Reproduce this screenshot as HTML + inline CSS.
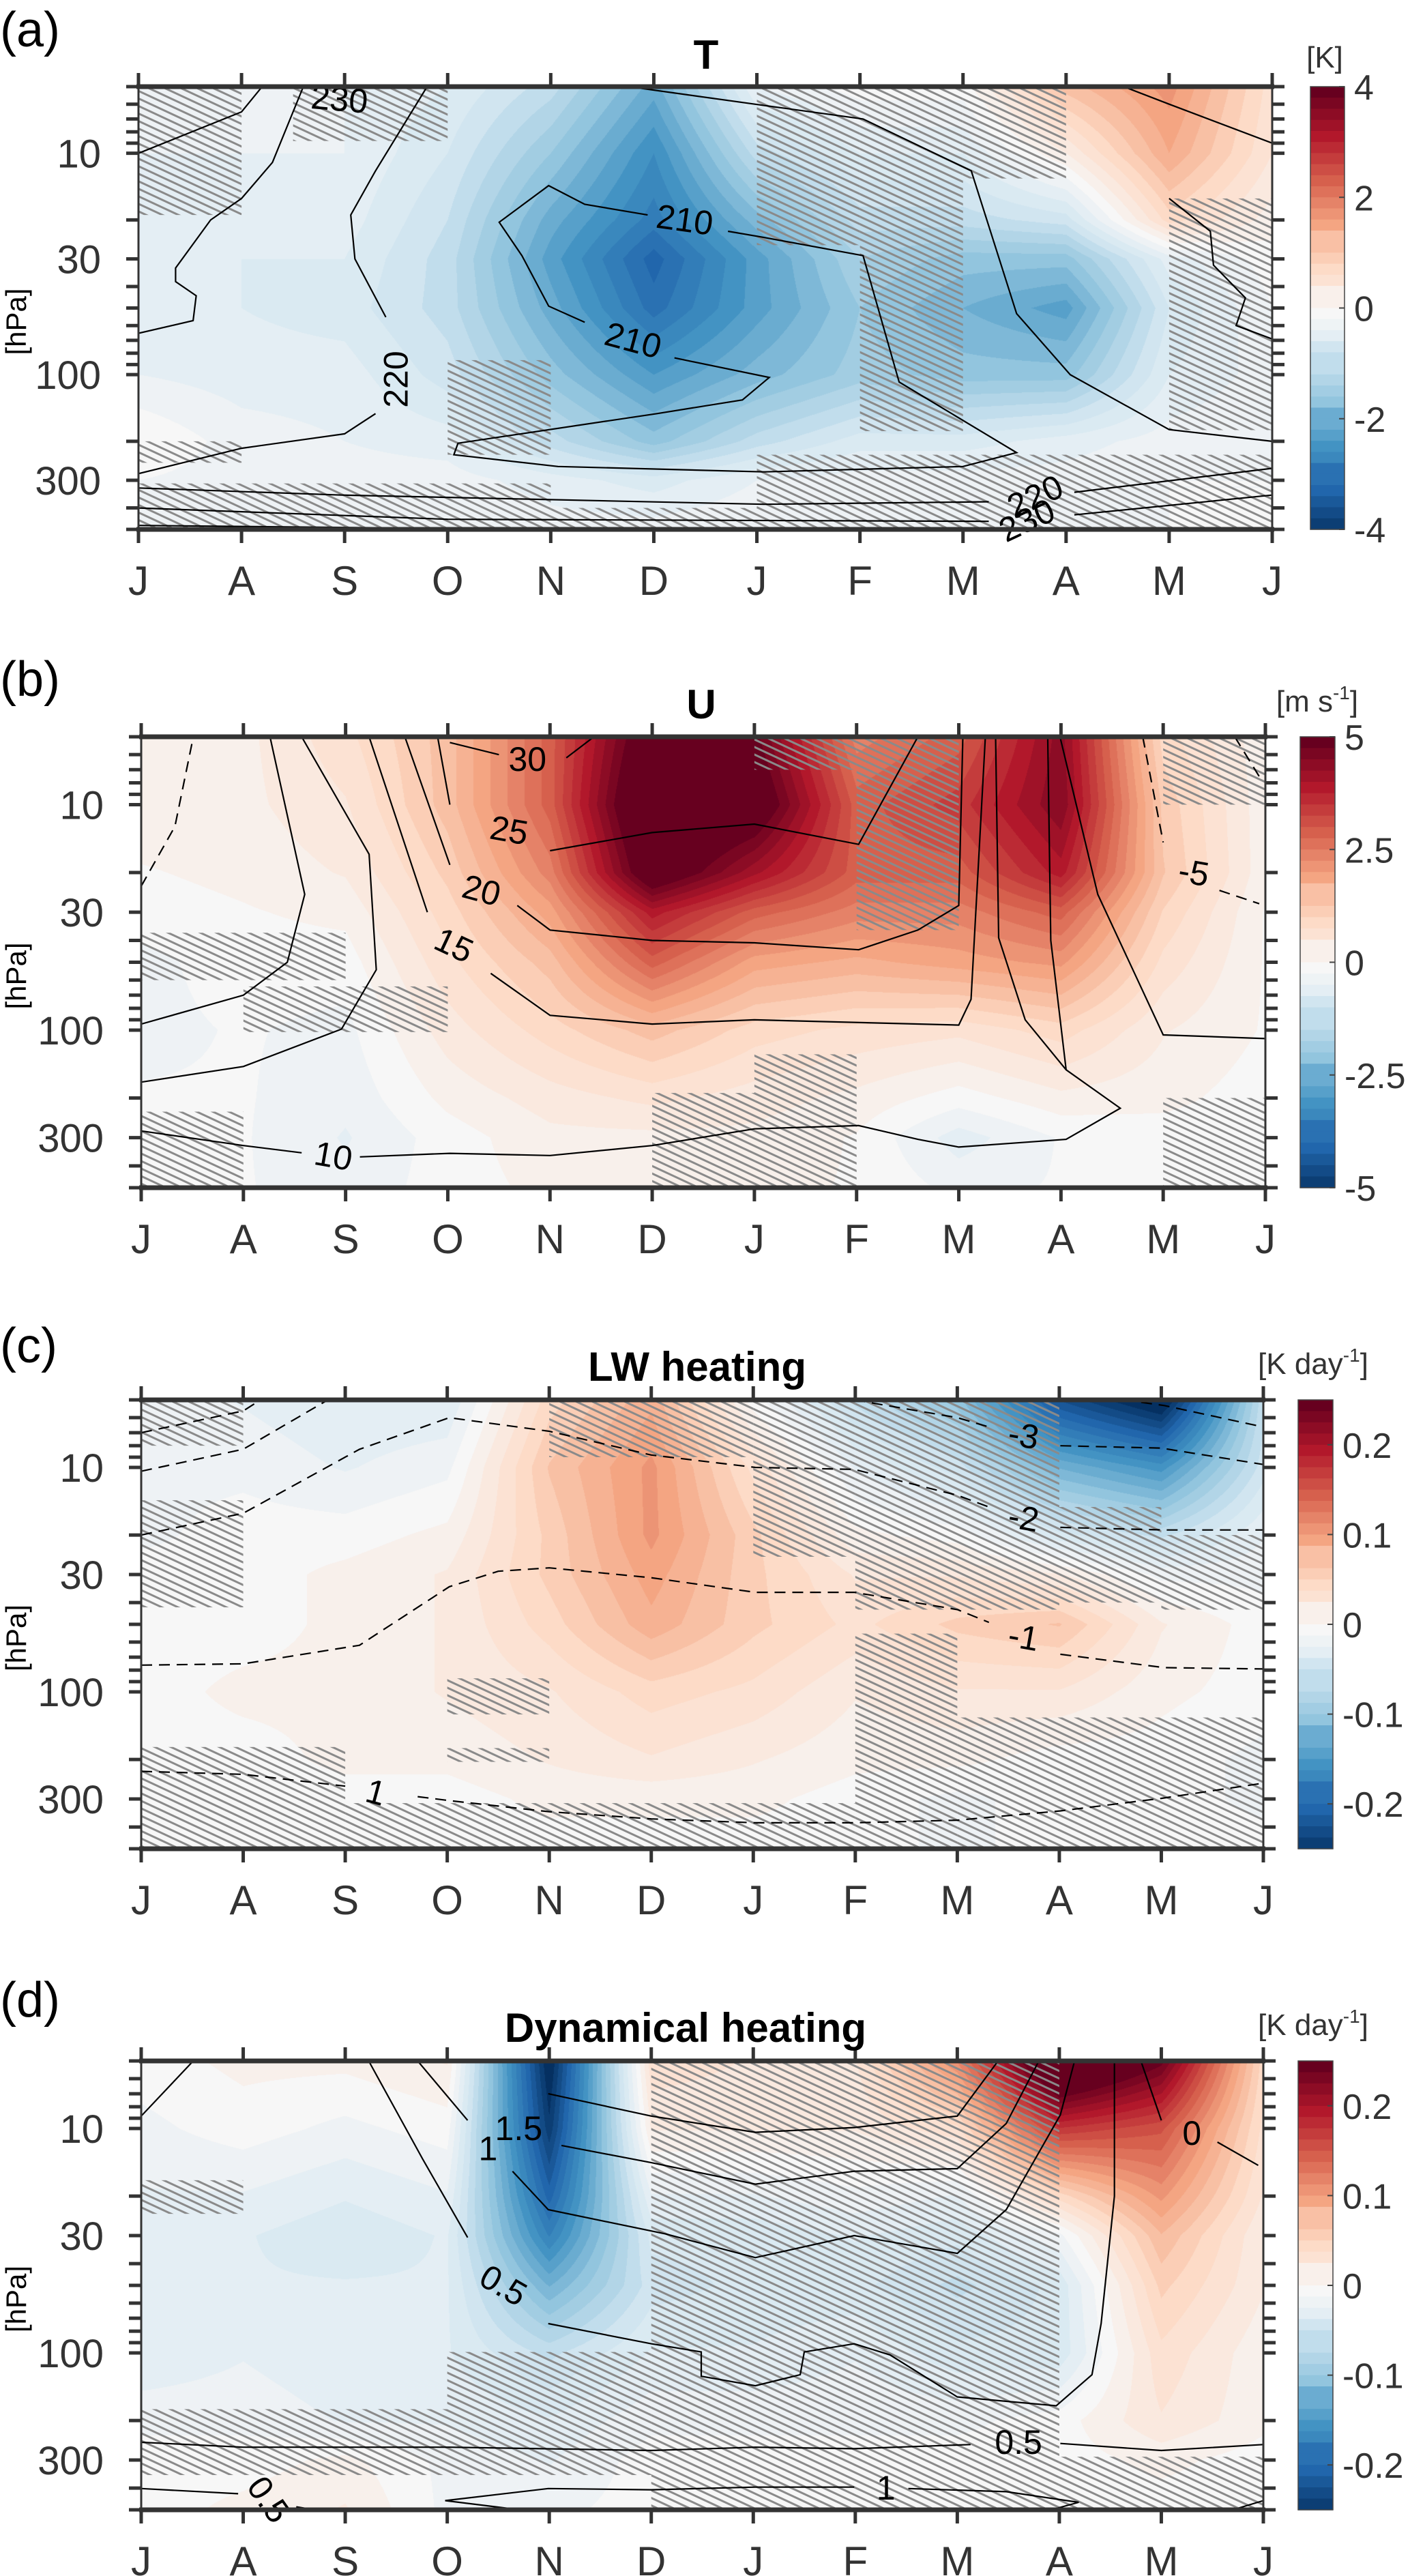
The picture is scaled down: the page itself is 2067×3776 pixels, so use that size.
<!DOCTYPE html>
<html><head><meta charset="utf-8">
<style>
html,body{margin:0;padding:0;background:#fff;}
#wrap{position:relative;width:2067px;height:3776px;overflow:hidden;font-family:"Liberation Sans",Arial,sans-serif;}
canvas{position:absolute;}
svg{position:absolute;left:0;top:0;}
</style></head>
<body>
<div id="wrap">
<canvas id="cv0"></canvas>
<canvas id="cv1"></canvas>
<canvas id="cv2"></canvas>
<canvas id="cv3"></canvas>
<svg id="svg" width="2067" height="3776" xmlns="http://www.w3.org/2000/svg">
<defs>
<pattern id="hatch" patternUnits="userSpaceOnUse" width="10" height="10" patternTransform="rotate(25)">
<line x1="0" y1="5" x2="10" y2="5" stroke="#8a8a8a" stroke-width="3"/>
</pattern>
</defs>
</svg>
</div>
<script>
// ---------- shared data ----------
const months = ['J','A','S','O','N','D','J','F','M','A','M','J'];
const levels = [5,10,20,30,50,100,200,300,500];
const yTickLabels = [10,30,100,300];
const minorTicks = [5,6,7,8,9,10,20,30,40,50,60,70,80,90,100,200,300,400,500];

// ---------- panel (a) T ----------
const fieldT = [
 [-0.2,-0.2,-0.3,-0.5,-1.0,-2.0,-0.3, 0.0, 0.0, 1.2, 1.8, 0.6],
 [-0.3,-0.3,-0.3,-0.7,-1.5,-2.5,-1.0,-0.5,-0.5, 0.3, 1.5, 0.5],
 [-0.4,-0.4,-0.4,-0.9,-2.0,-2.8,-1.8,-1.0,-1.0,-0.8, 0.8, 0.2],
 [-0.4,-0.5,-0.5,-1.0,-2.2,-3.2,-2.2,-1.3,-1.6,-1.6,-0.4, 0.0],
 [-0.4,-0.5,-0.6,-1.0,-2.0,-3.0,-2.2,-1.5,-1.9,-2.2,-0.7,-0.1],
 [-0.3,-0.4,-0.4,-0.8,-1.6,-2.3,-1.8,-1.4,-1.6,-1.6,-0.5,-0.2],
 [ 0.1,-0.2,-0.3,-0.4,-1.0,-1.6,-1.0,-0.6,-0.6,-0.4,-0.2,-0.1],
 [-0.1,-0.2,-0.2,-0.2,-0.4,-0.6,-0.3,-0.2,-0.2,-0.2,-0.1,-0.1],
 [-0.1,-0.1,-0.1,-0.1,-0.2,-0.2,-0.1,-0.1,-0.1,-0.1,-0.1,-0.1]];
const hatchT = [[0,1,5,19],[1.5,3,5,8.8],[3,4,86,230],[6,7,5,26],[7,8,5,180],[8,9,5,13],[10,11,16,178],[6,11,230,500],[0,4,310,500],[0,1,200,250],[4,6,400,500]];
const contoursT = [
 {dash:false,segs:[[[0,10],[1,6.5],[1.2,5]]]},
 {dash:false,segs:[[[0,65],[0.53,57],[0.56,44],[0.36,38],[0.36,33],[0.7,20],[1.0,16],[1.3,11],[1.6,5]]]},
 {dash:false,segs:[[[2.8,5],[2.3,12],[2.06,19],[2.1,30],[2.4,55]],[[2.3,150],[2.0,185],[1.0,215],[0,280]]]},
 {dash:false,segs:[[[4.94,19],[4.33,17],[3.98,14],[3.5,20.5],[3.72,29],[3.98,49],[4.33,58]],[[5.2,84],[6.12,103],[5.86,130],[5.03,150],[3.1,204],[3.06,230],[4.07,260],[6.07,275],[8.0,260],[8.52,225],[7.38,108],[7.03,29],[6.07,24],[5.72,22.5]]]},
 {dash:false,segs:[[[4.76,5],[5.98,6],[7.03,7],[8.08,12],[8.52,53],[9.04,100],[10.0,177],[11,200]]]},
 {dash:false,segs:[[[9.56,5],[10,6],[11,9]]]},
 {dash:false,segs:[[[10,16],[10.4,22.5],[10.43,32],[10.74,45],[10.65,60],[11,69]]]},
 {dash:false,segs:[[[0,325],[1.97,350],[6.07,385],[8.25,375]],[[9.08,340],[11,265]]]},
 {dash:false,segs:[[[0,400],[3.0,450],[8.25,460]],[[9.08,430],[11,350]]]},
 {dash:false,segs:[[[0,480],[3.9,500]]]}];
const labelsT = [['230',1.95,5.7,5],['220',2.5,105,-90],['210',4.8,70,15],['210',5.3,20,8],['220',8.7,355,-25],['230',8.62,455,-25]];

// ---------- panel (b) U ----------
const fieldU = [
 [0.3,0.3,0.8,1.5,3.0,5.5,5.0,2.5,3.0,4.5,1.0,0.2],
 [0.3,0.3,0.6,1.5,3.0,6.0,5.5,3.0,3.5,4.6,1.3,0.2],
 [0.1,0.2,0.4,1.2,2.5,5.5,4.2,3.0,3.0,4.0,1.4,0.2],
 [0.0,0.1,0.2,1.0,2.0,4.0,3.0,2.5,2.5,3.0,1.1,0.1],
 [-0.2,0.0,0.0,0.8,1.5,3.0,2.0,1.8,2.0,2.2,0.8,0.1],
 [-0.2,-0.1,-0.2,0.5,1.0,1.5,1.0,0.8,0.7,1.0,0.4,0.1],
 [-0.1,-0.1,-0.3,0.2,0.5,0.7,0.5,0.3,0.0,0.3,0.2,0.0],
 [-0.1,-0.1,-0.4,0.0,0.3,0.3,0.3,0.1,-0.5,-0.1,0.0,0.0],
 [-0.1,-0.1,-0.3,0.0,0.2,0.2,0.2,0.1,-0.2,-0.1,0.0,0.0]];
const hatchU = [[0,2,37,60],[1,3,64,102],[6,7,5,7],[7,8,5,36],[5,7,190,500],[6,7,128,190],[10,11,5,10],[0,1,230,500],[10,11,200,500]];
const contoursU = [
 {dash:true,segs:[[[0,23],[0.33,12.5],[0.51,5]]]},
 {dash:false,segs:[[[0,94],[1,70],[1.43,50],[1.6,25],[1.26,5]]]},
 {dash:false,segs:[[[0,170],[1,145],[1.96,99],[2.3,54],[2.23,16.6],[1.57,5]]]},
 {dash:false,segs:[[[2.23,5],[2.8,30]],[[3.42,56],[4.0,86],[5.0,94],[6.0,90],[8.0,95],[8.12,73],[8.26,5]]]},
 {dash:false,segs:[[[2.58,5],[3.02,18.5]],[[3.68,28],[4.0,36],[5.0,40],[6.0,41],[7.02,44],[7.6,36],[8.0,28],[8.04,5]]]},
 {dash:false,segs:[[[2.9,5],[3.02,10]],[[4.0,16],[5.0,13.3],[6.0,12.2],[7.02,15],[7.6,5]]]},
 {dash:false,segs:[[[3.02,5.3],[3.5,6]],[[4.16,6.2],[4.43,5]]]},
 {dash:false,segs:[[[8.36,5],[8.39,39],[8.65,90],[9.05,150],[9.58,222],[9.05,305],[8.0,330],[7.6,305],[7.02,265],[6.0,274],[5.0,325],[4.0,360],[3.02,352],[2.14,365]],[[1.57,350],[1.0,325],[0,280]]]},
 {dash:false,segs:[[[8.87,5],[8.9,40],[9.05,150]]]},
 {dash:false,segs:[[[8.99,5],[9.36,25],[10.0,105],[11,109]]]},
 {dash:true,segs:[[[9.8,5],[10,14.7]],[[10.55,24],[10.94,27.5]]]},
 {dash:true,segs:[[[10.7,5],[10.94,7.5]]]}];
const labelsU = [['30',3.78,6.3,0],['25',3.6,13,10],['20',3.33,24,15],['15',3.06,42,25],['10',1.88,362,10],['-5',10.3,20,10]];

// ---------- panel (c) LW ----------
const fieldLW = [
 [-0.01,-0.02,-0.03,-0.03,0.05,0.09,0.0,-0.06,-0.1,-0.22,-0.27,-0.06],
 [-0.01,-0.01,-0.02,-0.01,0.07,0.11,0.04,-0.02,-0.05,-0.12,-0.15,-0.05],
 [-0.01,0.0,0.0,0.01,0.06,0.11,0.06,0.01,0.0,-0.04,-0.06,-0.02],
 [0.0,0.0,0.01,0.02,0.06,0.10,0.06,0.03,0.03,0.02,-0.01,-0.01],
 [0.0,0.0,0.01,0.02,0.05,0.09,0.06,0.04,0.06,0.07,0.02,0.0],
 [0.0,0.01,0.01,0.02,0.03,0.05,0.04,0.02,0.03,0.03,0.01,0.0],
 [0.0,0.0,0.01,0.01,0.02,0.03,0.02,0.01,0.01,0.0,0.0,-0.01],
 [0.0,0.0,0.0,0.0,0.01,0.01,0.01,0.0,-0.01,0.0,0.0,-0.01],
 [0.0,0.0,0.0,0.0,0.0,0.0,0.0,0.0,-0.01,0.0,0.0,0.0]];
const hatchLW = [[0,1,5,8],[0,1,14,42],[4,6,5,9],[6,7,5,25],[7,9,5,43],[9,10,15,40],[10,11,20,43],[7,8,55,500],[8,11,130,500],[3,4,87,126],[3,4,178,205],[0,2,176,500],[2,7,313,500]];
const contoursLW = [
 {dash:true,segs:[[[0,7],[1,5.6],[1.17,5]]]},
 {dash:true,segs:[[[0,10.4],[1,8.3],[1.83,5]]]},
 {dash:true,segs:[[[0,20],[1,16],[2.14,8.3],[3.02,6],[4,6.9],[5,8.8],[6.02,10],[6.99,10.2],[8.0,13.3],[8.31,15]],[[9.01,18.5],[10.03,19],[11,19]]]},
 {dash:true,segs:[[[6.99,5],[8,6],[8.31,6.6]],[[9.01,8],[10,8.2],[11,9.7]]]},
 {dash:true,segs:[[[9.63,5],[10.03,5.3],[11,6.6]]]},
 {dash:true,segs:[[[0,76],[1,75],[2.14,62],[3.02,34],[3.5,29],[4,28],[5,31],[6.02,36],[6.99,36],[8,43],[8.31,49]],[[9.01,68],[10.03,78],[11,79]]]},
 {dash:true,segs:[[[0,226],[1,233],[2.0,263]],[[2.71,293],[3.02,305],[4,342],[5,368],[6.02,383],[6.99,383],[8,373],[9.01,339],[10,298],[11,255]]]}];
const labelsLW = [['-3',8.65,7.2,10],['-2',8.65,16.8,10],['-1',8.65,57,10],['1',2.3,280,15]];

// ---------- panel (d) Dynamical ----------
const fieldDyn = [
 [0.0,0.01,0.01,0.02,-0.26,0.04,0.03,0.03,0.12,0.32,0.25,0.05],
 [-0.01,0.0,-0.01,0.0,-0.24,0.02,0.02,0.02,0.04,0.18,0.16,0.04],
 [-0.02,-0.02,-0.03,-0.02,-0.2,-0.02,-0.02,-0.01,-0.02,0.05,0.11,0.03],
 [-0.02,-0.03,-0.04,-0.03,-0.17,-0.04,-0.04,-0.03,-0.04,-0.01,0.08,0.02],
 [-0.02,-0.03,-0.03,-0.03,-0.12,-0.05,-0.04,-0.04,-0.06,-0.04,0.06,0.02],
 [-0.03,-0.02,-0.03,-0.03,-0.06,-0.03,-0.03,-0.02,-0.04,-0.04,0.04,0.01],
 [-0.01,-0.01,-0.02,-0.02,-0.03,-0.01,-0.01,-0.01,-0.01,0.0,0.03,0.01],
 [0.0,0.0,0.01,-0.01,-0.02,0.0,0.0,0.0,0.0,0.0,0.01,0.0],
 [0.0,0.01,0.02,-0.01,-0.01,0.0,0.0,0.0,0.0,0.0,0.0,0.0]];
const hatchDyn = [[5,9,5,500],[0,5,178,350],[3,5,99,178],[0,1,17,24],[9,11,290,500]];
const contoursDyn = [
 {dash:false,segs:[[[0,8.8],[0.51,5]]]},
 {dash:false,segs:[[[2.23,5],[2.76,13.7],[3.2,30.6]],[[3.99,74],[5,91],[5.49,99],[5.49,127],[6.02,140],[6.46,125],[6.5,99],[6.99,91],[7.34,102],[8,157],[8.97,172],[9.32,125],[9.41,74],[9.54,20],[9.54,5]]]},
 {dash:false,segs:[[[2.71,5],[3.2,9.2]],[[3.99,7],[5,8.8],[6.02,10.4],[6.99,9.9],[8,8.8],[8.4,5]]]},
 {dash:false,segs:[[[4.12,11.9],[5,14.2],[6.02,17.7],[6.99,15.5],[8,15.1],[8.48,9.5],[8.8,5]]]},
 {dash:false,segs:[[[3.64,15.5],[3.99,23],[5.14,29.5],[6.02,37.6],[6.99,30],[8,36],[8.48,23],[9.01,8.7],[9.15,5]]]},
 {dash:false,segs:[[[9.8,5],[10,9.2]],[[10.55,11.5],[10.95,14.6]]]},
 {dash:false,segs:[[[0,250],[1,263],[3.02,263],[5,272],[6.02,263],[6.99,267],[8.13,256]],[[9.01,253],[10,272],[11,256]]]},
 {dash:false,segs:[[[3.64,495],[2.98,455],[3.99,402],[5,407],[6.02,396],[6.99,396]],[[7.52,402],[8.48,415],[9.19,463],[8.92,500]]]},
 {dash:false,segs:[[[0,402],[0.95,424]],[[1.52,485],[1.7,500]]]},
 {dash:false,segs:[[[10.7,500],[11,455]]]}];
const labelsDyn = [['1.5',3.7,10,0],['1',3.4,12.3,0],['0.5',3.55,50,30],['0',10.3,10.5,0],['0.5',8.6,250,0],['1',7.3,400,0],['0.5',1.25,450,55]];

// ---------- colormap ----------
const rdbu = [[5,48,97],[33,102,172],[67,147,195],[146,197,222],[209,229,240],[247,247,247],[253,219,199],[244,165,130],[214,96,77],[178,24,43],[103,0,31]];
function cmap(t){
  t = Math.max(-1,Math.min(1,Math.round(t*20)/20));
  const u=(t+1)/2*10; const i=Math.min(9,Math.floor(u)); const f=u-i;
  const a=rdbu[i], b=rdbu[i+1];
  return [a[0]+(b[0]-a[0])*f, a[1]+(b[1]-a[1])*f, a[2]+(b[2]-a[2])*f];
}

const panels = [
 {id:'a',L:203,R:1865,T:127,B:776,cbL:1921,cbR:1971,field:fieldT,vmax:4,hatch:hatchT,cont:contoursT,labels:labelsT,
  title:'T',titleX:1035,titleY:101,lab:'(a)',labY:68,unit:['[K]'],unitX:1942,unitY:99,cbTicks:[4,2,0,-2,-4]},
 {id:'b',L:207,R:1855,T:1080,B:1741,cbL:1906,cbR:1957,field:fieldU,vmax:5,hatch:hatchU,cont:contoursU,labels:labelsU,
  title:'U',titleX:1028,titleY:1053,lab:'(b)',labY:1020,unit:['[m s','-1',']'],unitX:1931,unitY:1043,cbTicks:[5,2.5,0,-2.5,-5]},
 {id:'c',L:207,R:1852,T:2052,B:2710,cbL:1903,cbR:1954,field:fieldLW,vmax:0.25,hatch:hatchLW,cont:contoursLW,labels:labelsLW,
  title:'LW heating',titleX:1022,titleY:2024,lab:'(c)',labY:1997,unit:['[K day','-1',']'],unitX:1925,unitY:2014,cbTicks:[0.2,0.1,0,-0.1,-0.2]},
 {id:'d',L:207,R:1852,T:3021,B:3679,cbL:1903,cbR:1954,field:fieldDyn,vmax:0.25,hatch:hatchDyn,cont:contoursDyn,labels:labelsDyn,
  title:'Dynamical heating',titleX:1005,titleY:2993,lab:'(d)',labY:2956,unit:['[K day','-1',']'],unitX:1925,unitY:2983,cbTicks:[0.2,0.1,0,-0.1,-0.2]}
];

const NS='http://www.w3.org/2000/svg';
const svg=document.getElementById('svg');
function mk(tag,attrs,parent){const e=document.createElementNS(NS,tag);for(const k in attrs)e.setAttribute(k,attrs[k]);(parent||svg).appendChild(e);return e;}
const LP0=Math.log10(5), LPR=2;
const logLv=levels.map(p=>Math.log10(p));

panels.forEach((P,pi)=>{
  const W=P.R-P.L, H=P.B-P.T;
  const xs=m=>P.L+m/11*W;
  const ys=p=>P.T+(Math.log10(p)-LP0)/LPR*H;

  const cv=document.getElementById('cv'+pi);
  cv.width=W; cv.height=H; cv.style.left=P.L+'px'; cv.style.top=P.T+'px';
  const ctx=cv.getContext('2d'); const img=ctx.createImageData(W,H);
  for(let py=0;py<H;py++){
    const lp=LP0+(py+0.5)/H*LPR;
    let i=0; while(i<levels.length-2 && lp>logLv[i+1]) i++;
    let ty=(lp-logLv[i])/(logLv[i+1]-logLv[i]); ty=Math.max(0,Math.min(1,ty));
    for(let px=0;px<W;px++){
      const m=(px+0.5)/W*11; let j=Math.min(10,Math.floor(m)); const tx=m-j;
      const f=P.field;
      const v=(f[i][j]*(1-tx)+f[i][j+1]*tx)*(1-ty)+(f[i+1][j]*(1-tx)+f[i+1][j+1]*tx)*ty;
      const c=cmap(v/P.vmax); const k=(py*W+px)*4;
      img.data[k]=c[0];img.data[k+1]=c[1];img.data[k+2]=c[2];img.data[k+3]=255;
    }
  }
  ctx.putImageData(img,0,0);

  const g=mk('g',{});
  
  
  const cp=mk('clipPath',{id:'clip'+pi},g);
  mk('rect',{x:P.L,y:P.T,width:W,height:H},cp);

  const hg=mk('g',{'clip-path':'url(#clip'+pi+')'},g);
  
  
  P.hatch.forEach(h=>{
    const r=mk('rect',{x:xs(h[0]),y:ys(h[2]),width:xs(h[1])-xs(h[0]),height:ys(h[3])-ys(h[2]),fill:'url(#hatch)'},hg);
    
    
  });

  const cg=mk('g',{'clip-path':'url(#clip'+pi+')'},g);
  
  
  P.cont.forEach(c=>{
    c.segs.forEach(s=>{
      const d=s.map((q,k)=>(k?'L':'M')+xs(q[0]).toFixed(1)+','+ys(q[1]).toFixed(1)).join('');
      const path=mk('path',{d:d,fill:'none',stroke:'#000','stroke-width':2.2,'stroke-dasharray':c.dash?'16,10':'none'},cg);
      
      
    });
  });
  P.labels.forEach(l=>{
    const x=xs(l[1]), y=ys(l[2]);
    const t=mk('text',{x:x,y:y,'font-size':50,'text-anchor':'middle','dominant-baseline':'central',transform:'rotate('+l[3]+' '+x+' '+y+')',fill:'#000'},g);
    t.textContent=l[0];
    
    
  });

  const ax='#333';
  const box=mk('rect',{x:P.L,y:P.T,width:W,height:H,fill:'none',stroke:ax,'stroke-width':3},g);
  
  
  mk('line',{x1:P.L-3,x2:P.R+3,y1:P.T,y2:P.T,stroke:ax,'stroke-width':7},g);
  mk('line',{x1:P.L-3,x2:P.R+3,y1:P.B,y2:P.B,stroke:ax,'stroke-width':7},g);

  months.forEach((mo,k)=>{
    const x=xs(k);
    mk('line',{x1:x,x2:x,y1:P.B,y2:P.B+20,stroke:ax,'stroke-width':5},g);
    mk('line',{x1:x,x2:x,y1:P.T,y2:P.T-20,stroke:ax,'stroke-width':5},g);
    const t=mk('text',{x:x,y:P.B+96,'font-size':60,'text-anchor':'middle',fill:'#333'},g);
    t.textContent=mo;
    
    
  });
  minorTicks.forEach(p=>{
    const y=ys(p);
    mk('line',{x1:P.L-18,x2:P.L,y1:y,y2:y,stroke:ax,'stroke-width':5},g);
    mk('line',{x1:P.R,x2:P.R+18,y1:y,y2:y,stroke:ax,'stroke-width':5},g);
  });
  yTickLabels.forEach(p=>{
    const t=mk('text',{x:P.L-55,y:ys(p)+21,'font-size':58,'text-anchor':'end',fill:'#333'},g);
    t.textContent=String(p);
    
    
  });
  const yl=mk('text',{x:38,y:(P.T+P.B)/2+20,'font-size':42,'text-anchor':'middle',fill:'#000',transform:'rotate(-90 38 '+((P.T+P.B)/2+20)+')'},g);
  yl.textContent='[hPa]';
  
  

  const tt=mk('text',{x:P.titleX,y:P.titleY,'font-size':60,'font-weight':'bold','text-anchor':'middle',fill:'#000'},g);
  tt.textContent=P.title;
  
  
  const pl=mk('text',{x:0,y:P.labY,'font-size':72,fill:'#000'},g);
  pl.textContent=P.lab;
  
  

  const cbg=mk('g',{},g);
  
  
  const N=40, cbH=H;
  for(let s=0;s<N;s++){
    const v=1-(s+0.5)/N*2; const c=cmap(v);
    const r=mk('rect',{x:P.cbL,y:P.T+s*cbH/N,width:P.cbR-P.cbL,height:cbH/N+0.6,fill:'rgb('+c.map(Math.round).join(',')+')'},cbg);
    
    
  }
  mk('rect',{x:P.cbL,y:P.T,width:P.cbR-P.cbL,height:cbH,fill:'none',stroke:'#444','stroke-width':1.5},cbg);
  P.cbTicks.forEach(v=>{
    const y=P.T+(P.vmax-v)/(2*P.vmax)*cbH;
    mk('line',{x1:P.cbR-8,x2:P.cbR,y1:y,y2:y,stroke:'#444','stroke-width':2},cbg);
    const t=mk('text',{x:P.cbR+14,y:y+19,'font-size':52,fill:'#333'},cbg);
    t.textContent=String(v);
    
    
  });
  const ut=mk('text',{x:P.unitX,y:P.unitY,'font-size':44,'text-anchor':'middle',fill:'#333'},cbg);
  
  
  if(P.unit.length===1){ut.textContent=P.unit[0];}
  else{
    const a=document.createElementNS(NS,'tspan');a.textContent=P.unit[0];ut.appendChild(a);
    const b=document.createElementNS(NS,'tspan');b.textContent=P.unit[1];b.setAttribute('font-size','28');b.setAttribute('dy','-18');ut.appendChild(b);
    const c=document.createElementNS(NS,'tspan');c.textContent=P.unit[2];c.setAttribute('dy','18');ut.appendChild(c);
  }
});
</script>
</body></html>
